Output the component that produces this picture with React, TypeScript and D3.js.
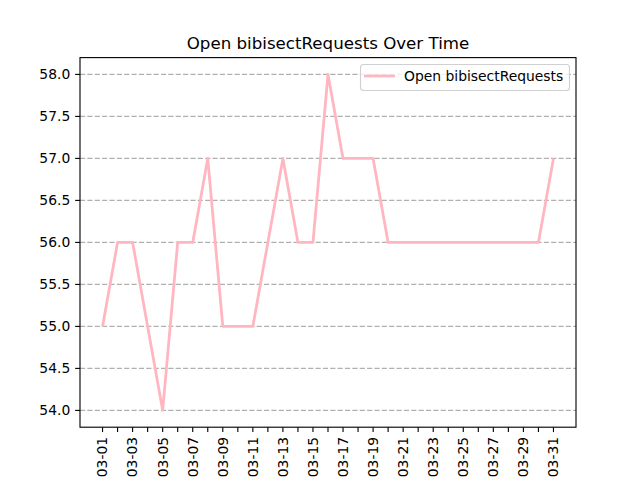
import React from "react";
import * as d3 from "d3";

const dates = Array.from({ length: 31 }, (_, i) => `03-${String(i + 1).padStart(2, "0")}`);
const values = [55, 56, 56, 55, 54, 56, 56, 57, 55, 55, 55, 56, 57, 56, 56, 58, 57, 57, 57, 56, 56, 56, 56, 56, 56, 56, 56, 56, 56, 56, 57];
const yTicks = [54.0, 54.5, 55.0, 55.5, 56.0, 56.5, 57.0, 57.5, 58.0];
const seriesName = "Open bibisectRequests";
const title = "Open bibisectRequests Over Time";

export default function App() {
  const W = 640, H = 480;
  const pt = 100 / 72;
  const L = 80, R = 576, T = 57.6, B = 427.2;
  const x = d3.scaleLinear().domain([-1.5, 31.5]).range([L, R]);
  const y = d3.scaleLinear().domain([53.8, 58.2]).range([B, T]);
  const line = d3.line<number>().x((_, i) => x(i)).y((d) => y(d));
  const font = "DejaVu Sans, sans-serif";
  const fs = 10 * pt;
  return (
    <svg width={W} height={H} style={{ position: "absolute", left: 0, top: 0 }} fontFamily={font}>
      <rect width={W} height={H} fill="#fff" />
      {yTicks.map((t) => (
        <line key={"g" + t} x1={L} x2={R} y1={y(t)} y2={y(t)} stroke="#b0b0b0" strokeWidth={0.8 * pt} strokeDasharray={`${3.7 * pt},${1.6 * pt}`} />
      ))}
      <path d={line(values) || ""} fill="none" stroke="#ffb6c1" strokeWidth={2 * pt} strokeLinejoin="round" strokeLinecap="butt" />
      <rect x={L} y={T} width={R - L} height={B - T} fill="none" stroke="#000" strokeWidth={0.8 * pt} />
      {yTicks.map((t) => (
        <g key={"y" + t}>
          <line x1={L - 3.5 * pt} x2={L} y1={y(t)} y2={y(t)} stroke="#000" strokeWidth={0.8 * pt} />
          <text x={L - 7 * pt} y={y(t)} dy="0.35em" textAnchor="end" fontSize={fs} fill="#000">{t.toFixed(1)}</text>
        </g>
      ))}
      {dates.map((d, i) => (
        <g key={d}>
          <line x1={x(i)} x2={x(i)} y1={B} y2={B + 3.5 * pt} stroke="#000" strokeWidth={0.8 * pt} />
          {i % 2 === 0 && (
            <text transform={`translate(${x(i)},${B + 7 * pt}) rotate(-90)`} dy="0.35em" textAnchor="end" fontSize={fs} fill="#000">{d}</text>
          )}
        </g>
      ))}
      <text x={(L + R) / 2} y={T - 6 * pt} textAnchor="middle" fontSize={12 * pt} fill="#000">{title}</text>
      <g>
        <rect x={360.5} y={64.5} width={209} height={26} rx={3} fill="#fff" fillOpacity={0.8} stroke="#d0d0d0" strokeWidth={0.8 * pt} />
        <line x1={364} x2={395} y1={76} y2={76} stroke="#ffb6c1" strokeWidth={2 * pt} />
        <text x={404} y={76} dy="0.35em" fontSize={fs} fill="#000">{seriesName}</text>
      </g>
    </svg>
  );
}
